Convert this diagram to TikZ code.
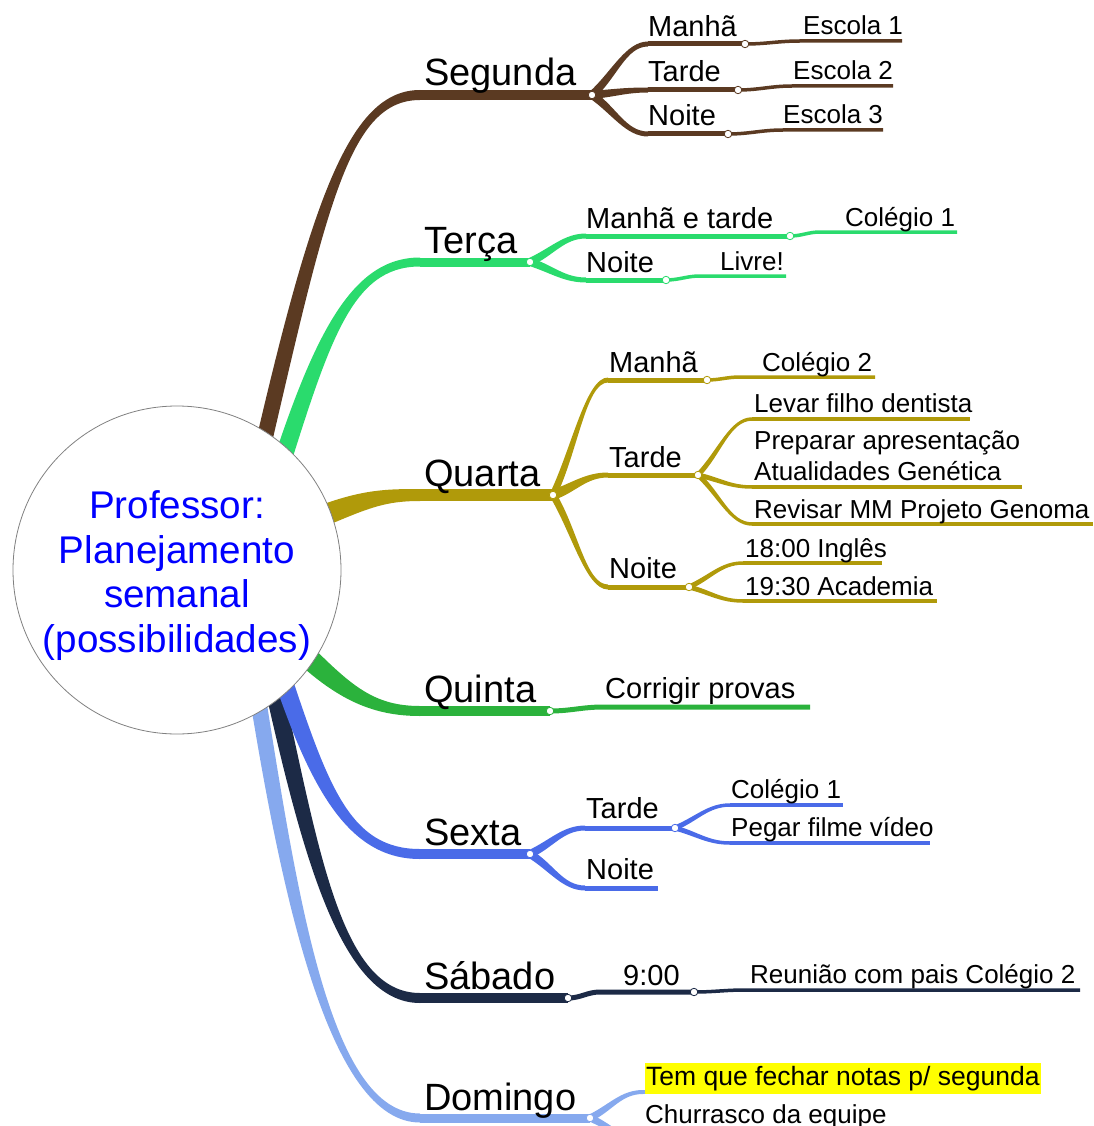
\documentclass[tikz,border=0pt]{standalone}
\usepackage{fontspec}
\setmainfont{Liberation Sans}
\usetikzlibrary{calc}
\definecolor{cSeg}{HTML}{5B3A22}
\definecolor{cTer}{HTML}{2ADB6D}
\definecolor{cQua}{HTML}{B09A0A}
\definecolor{cQui}{HTML}{2BB23C}
\definecolor{cSex}{HTML}{4A6BE8}
\definecolor{cSab}{HTML}{1C2A46}
\definecolor{cDom}{HTML}{86A9EE}
\definecolor{hilite}{HTML}{FFFF00}
% tapered branch: colour, A, C1, C2, B, half-width at A, half-width at B
\newcommand{\taper}[7]{\fill[#1] ($#2!#6!90:#3$) .. controls ($#3!#6!-90:#2$) and ($#4!#7!90:#5$) .. ($#5!#7!-90:#4$) -- ($#5!#7!90:#4$) .. controls ($#4!#7!-90:#5$) and ($#3!#6!90:#2$) .. ($#2!#6!-90:#3$) -- cycle;}
% tapered fork from knot to the start of a horizontal line: colour, from, to, w1, w2
\newcommand{\fork}[5]{%
  \path ($(#2)!0.4!(#3)$) coordinate (fkA) ($(#3)+(-22,0)$) coordinate (fkB);
  \taper{#1}{(#2)}{(fkA)}{(fkB)}{(#3)}{#4}{#5}}
\tikzset{
  daylbl/.style={anchor=base west, inner sep=0pt, font=\fontsize{38}{40}\selectfont},
  lvtwo/.style={anchor=base west, inner sep=0pt, font=\fontsize{29}{32}\selectfont},
  lvthree/.style={anchor=base west, inner sep=0pt, font=\fontsize{26}{29}\selectfont},
  ctrtxt/.style={anchor=base, inner sep=0pt, text=blue, font=\fontsize{38.6}{44}\selectfont},
  knot/.style={circle, fill=white, line width=0.8pt, inner sep=0pt, minimum size=7.5pt},
  wtwo/.style={line width=5pt},
  wthree/.style={line width=3.5pt},
}
\begin{document}
\begin{tikzpicture}[x=1pt,y=-1pt]
\useasboundingbox (0,0) rectangle (1093,1126);

% ---------- coordinates ----------
\coordinate (sA) at (262,450); \coordinate (sB) at (420,95);  \coordinate (sD) at (592,95);
\coordinate (tA) at (270,500); \coordinate (tB) at (420,262); \coordinate (tD) at (530,262);
\coordinate (qA) at (300,525); \coordinate (qB) at (420,495); \coordinate (qD) at (553,495);
\coordinate (uA) at (290,640); \coordinate (uB) at (420,711); \coordinate (uD) at (550,711);
\coordinate (xA) at (280,670); \coordinate (xB) at (420,854); \coordinate (xD) at (530,854);
\coordinate (bA) at (270,670); \coordinate (bB) at (420,998); \coordinate (bD) at (568,998);
\coordinate (dA) at (255,680); \coordinate (dB) at (420,1118); \coordinate (dD) at (590,1118);

% ---------- main branches ----------
\taper{cDom}{(dA)}{(290,900)}{(330,1118)}{(dB)}{8pt}{4.5pt}
\taper{cSab}{(bA)}{(310,850)}{(340,998)}{(bB)}{9pt}{5pt}
\taper{cSex}{(xA)}{(320,790)}{(350,854)}{(xB)}{9pt}{5pt}
\taper{cQui}{(uA)}{(340,690)}{(370,711)}{(uB)}{11pt}{5pt}
\taper{cQua}{(qA)}{(360,500)}{(380,495)}{(qB)}{11pt}{6pt}
\taper{cTer}{(tA)}{(320,340)}{(350,262)}{(tB)}{9pt}{4.5pt}
\taper{cSeg}{(sA)}{(320,200)}{(350,95)}{(sB)}{8pt}{5pt}

% ---------- Segunda ----------
\draw[cSeg, line width=10pt] (sB) -- (sD);
\coordinate (s1a) at (648,44);  \coordinate (s1d) at (745,44);  \coordinate (s1b) at (800,41);  \coordinate (s1e) at (902,41);
\coordinate (s2a) at (648,90);  \coordinate (s2d) at (738,90);  \coordinate (s2b) at (792,86);  \coordinate (s2e) at (893,86);
\coordinate (s3a) at (648,134); \coordinate (s3d) at (728,134); \coordinate (s3b) at (783,130); \coordinate (s3e) at (883,130);
\fork{cSeg}{sD}{s1a}{4pt}{2.5pt} \fork{cSeg}{sD}{s2a}{4pt}{2.5pt} \fork{cSeg}{sD}{s3a}{4pt}{2.5pt}
\draw[cSeg, wtwo] (s1a) -- (s1d);
\draw[cSeg, wtwo] (s2a) -- (s2d);
\draw[cSeg, wtwo] (s3a) -- (s3d);
\draw[cSeg, wthree] (s1d) to[out=0,in=180] (s1b) -- (s1e);
\draw[cSeg, wthree] (s2d) to[out=0,in=180] (s2b) -- (s2e);
\draw[cSeg, wthree] (s3d) to[out=0,in=180] (s3b) -- (s3e);
\node[daylbl] (nSeg) at (424,86) {Segunda};
\node[lvtwo] (nSeg1) at (648,37) {Manhã};
\node[lvtwo] (nSeg2) at (648,82) {Tarde};
\node[lvtwo] (nSeg3) at (648,126) {Noite};
\node[lvthree] (nSeg1a) at (803,35) {Escola 1};
\node[lvthree] (nSeg2a) at (793,80) {Escola 2};
\node[lvthree] (nSeg3a) at (783,124) {Escola 3};

% ---------- Terca ----------
\draw[cTer, line width=9pt] (tB) -- (tD);
\coordinate (t1a) at (586,236); \coordinate (t1d) at (790,236); \coordinate (t1b) at (820,232); \coordinate (t1e) at (957,232);
\coordinate (t2a) at (586,280); \coordinate (t2d) at (666,280); \coordinate (t2b) at (700,276); \coordinate (t2e) at (786,276);
\fork{cTer}{tD}{t1a}{4pt}{2.5pt} \fork{cTer}{tD}{t2a}{4pt}{2.5pt}
\draw[cTer, wtwo] (t1a) -- (t1d);
\draw[cTer, wtwo] (t2a) -- (t2d);
\draw[cTer, wthree] (t1d) to[out=0,in=180] (t1b) -- (t1e);
\draw[cTer, wthree] (t2d) to[out=0,in=180] (t2b) -- (t2e);
\node[daylbl] (nTer) at (424,253) {Terça};
\node[lvtwo] (nTer1) at (586,228) {Manhã e tarde};
\node[lvtwo] (nTer2) at (586,272) {Noite};
\node[lvthree] (nTer1a) at (845,226) {Colégio 1};
\node[lvthree] (nTer2a) at (720,270) {Livre!};

% ---------- Quarta ----------
\draw[cQua, line width=12pt] (qB) -- (qD);
\coordinate (q1a) at (608,380); \coordinate (q1d) at (707,380); \coordinate (q1b) at (740,377); \coordinate (q1e) at (875,377);
\coordinate (q2a) at (608,475); \coordinate (q2d) at (698,475);
\coordinate (q3a) at (608,587); \coordinate (q3d) at (689,587);
\coordinate (q21) at (752,419); \coordinate (q21e) at (970,419);
\coordinate (q22) at (752,487); \coordinate (q22e) at (1022,487);
\coordinate (q23) at (752,524); \coordinate (q23e) at (1093,524);
\coordinate (q31) at (743,563); \coordinate (q31e) at (882,563);
\coordinate (q32) at (743,601); \coordinate (q32e) at (937,601);
\fork{cQua}{qD}{q1a}{3.5pt}{2.5pt} \fork{cQua}{qD}{q2a}{5pt}{2.5pt} \fork{cQua}{qD}{q3a}{3.5pt}{2.5pt}
\draw[cQua, wtwo] (q1a) -- (q1d);
\draw[cQua, wtwo] (q2a) -- (q2d);
\draw[cQua, wtwo] (q3a) -- (q3d);
\draw[cQua, wthree] (q1d) to[out=0,in=180] (q1b) -- (q1e);
\fork{cQua}{q2d}{q21}{2.5pt}{1.75pt} \fork{cQua}{q2d}{q22}{2.5pt}{1.75pt} \fork{cQua}{q2d}{q23}{2.5pt}{1.75pt}
\fork{cQua}{q3d}{q31}{2.5pt}{1.75pt} \fork{cQua}{q3d}{q32}{2.5pt}{1.75pt}
\draw[cQua, wthree] (q21) -- (q21e);
\draw[cQua, wthree] (q22) -- (q22e);
\draw[cQua, wthree] (q23) -- (q23e);
\draw[cQua, wthree] (q31) -- (q31e);
\draw[cQua, wthree] (q32) -- (q32e);
\node[daylbl] (nQua) at (424,486) {Quarta};
\node[lvtwo] (nQua1) at (609,372) {Manhã};
\node[lvtwo] (nQua2) at (609,467) {Tarde};
\node[lvtwo] (nQua3) at (609,578) {Noite};
\node[lvthree] (nQua1a) at (762,371) {Colégio 2};
\node[lvthree] (nQua2a) at (754,412) {Levar filho dentista};
\node[lvthree] (nQua2b) at (754,449) {Preparar apresentação};
\node[lvthree] (nQua2c) at (754,480) {Atualidades Genética};
\node[lvthree] (nQua2d) at (754,518) {Revisar MM Projeto Genoma};
\node[lvthree] (nQua3a) at (745,557) {18:00 Inglês};
\node[lvthree] (nQua3b) at (745,595) {19:30 Academia};

% ---------- Quinta ----------
\draw[cQui, line width=10pt] (uB) -- (uD);
\coordinate (u1a) at (603,707); \coordinate (u1e) at (810,707);
\draw[cQui, wtwo] (uD) to[out=0,in=180] (u1a) -- (u1e);
\node[daylbl] (nQui) at (424,702) {Quinta};
\node[lvtwo] (nQui1) at (605,698) {Corrigir provas};

% ---------- Sexta ----------
\draw[cSex, line width=10pt] (xB) -- (xD);
\coordinate (x1a) at (585,828); \coordinate (x1d) at (675,828);
\coordinate (x2a) at (585,888); \coordinate (x2e) at (658,888);
\coordinate (x11) at (730,805); \coordinate (x11e) at (843,805);
\coordinate (x12) at (730,843); \coordinate (x12e) at (930,843);
\fork{cSex}{xD}{x1a}{4pt}{2.5pt} \fork{cSex}{xD}{x2a}{4pt}{2.5pt}
\draw[cSex, wtwo] (x1a) -- (x1d);
\draw[cSex, wtwo] (x2a) -- (x2e);
\fork{cSex}{x1d}{x11}{2.5pt}{1.75pt} \fork{cSex}{x1d}{x12}{2.5pt}{1.75pt}
\draw[cSex, wthree] (x11) -- (x11e);
\draw[cSex, wthree] (x12) -- (x12e);
\node[daylbl] (nSex) at (424,845) {Sexta};
\node[lvtwo] (nSex1) at (586,818) {Tarde};
\node[lvtwo] (nSex2) at (586,879) {Noite};
\node[lvthree] (nSex1a) at (731,798) {Colégio 1};
\node[lvthree] (nSex1b) at (731,836) {Pegar filme vídeo};

% ---------- Sabado ----------
\draw[cSab, line width=10pt] (bB) -- (bD);
\coordinate (b1a) at (600,992); \coordinate (b1d) at (694,992); \coordinate (b1b) at (745,990); \coordinate (b1e) at (1080,990);
\draw[cSab, wtwo] (bD) to[out=0,in=180] (b1a) -- (b1d);
\draw[cSab, wthree] (b1d) to[out=0,in=180] (b1b) -- (b1e);
\node[daylbl] (nSab) at (424,989) {Sábado};
\node[lvtwo] (nSab1) at (623,985) {9:00};
\node[lvthree] (nSab1a) at (750,983) {Reunião com pais Colégio 2};

% ---------- Domingo ----------
\draw[cDom, line width=9pt] (dB) -- (dD);
\coordinate (d1a) at (643,1092); \coordinate (d1e) at (1025,1092);
\coordinate (d2a) at (643,1140); \coordinate (d2e) at (892,1140);
\fork{cDom}{dD}{d1a}{3.5pt}{2pt} \fork{cDom}{dD}{d2a}{3.5pt}{2pt}
\draw[cDom, line width=4pt] (d1a) -- (d1e);
\draw[cDom, line width=4pt] (d2a) -- (d2e);
\node[daylbl] (nDom) at (424,1110) {Domingo};
\node[lvthree, fill=hilite, inner xsep=1pt, inner ysep=3pt, font=\fontsize{26.5}{29}\selectfont] (nDom1) at (645,1085) {Tem que fechar notas p/ segunda};
\node[lvthree] (nDom2) at (645,1123) {Churrasco da equipe};

% ---------- knots ----------
\node[knot, draw=cSeg] (ksD) at (sD) {};
\node[knot, draw=cSeg] (ks1) at (s1d) {};
\node[knot, draw=cSeg] (ks2) at (s2d) {};
\node[knot, draw=cSeg] (ks3) at (s3d) {};
\node[knot, draw=cTer] (ktD) at (tD) {};
\node[knot, draw=cTer] (kt1) at (t1d) {};
\node[knot, draw=cTer] (kt2) at (t2d) {};
\node[knot, draw=cQua] (kqD) at (qD) {};
\node[knot, draw=cQua] (kq1) at (q1d) {};
\node[knot, draw=cQua] (kq2) at (q2d) {};
\node[knot, draw=cQua] (kq3) at (q3d) {};
\node[knot, draw=cQui] (kuD) at (uD) {};
\node[knot, draw=cSex] (kxD) at (xD) {};
\node[knot, draw=cSex] (kx1) at (x1d) {};
\node[knot, draw=cSab] (kbD) at (bD) {};
\node[knot, draw=cSab] (kb1) at (b1d) {};
\node[knot, draw=cDom] (kdD) at (dD) {};

% ---------- centre ----------
\node[circle, draw=gray, fill=white, line width=0.8pt, minimum size=328pt, inner sep=0pt] (ctr) at (177,570) {};
\node[ctrtxt] (c1) at (177,518) {Professor:};
\node[ctrtxt] (c2) at (177,563) {Planejamento};
\node[ctrtxt] (c3) at (177,607) {semanal};
\node[ctrtxt] (c4) at (177,652) {(possibilidades)};
\end{tikzpicture}
\end{document}
